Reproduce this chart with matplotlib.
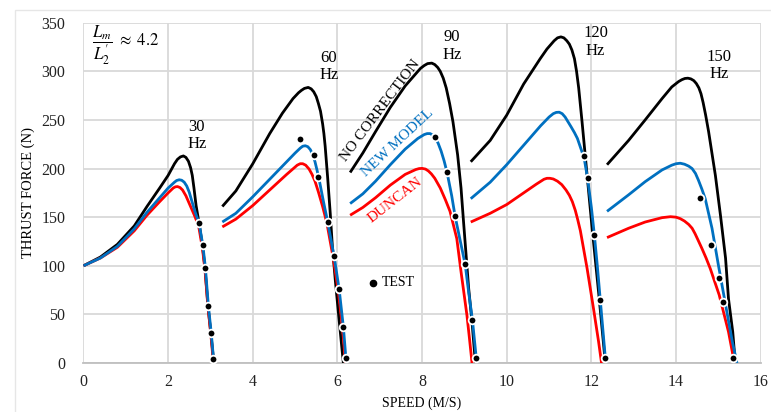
import matplotlib.pyplot as plt
from matplotlib.patches import Rectangle

# thrust (N) vs speed (m/s)
# nc = no correction, nm = new model, dn = Duncan, one set per supply frequency
nc30_v = [0, 0.4, 0.8, 1.2, 1.5, 1.8, 2.0, 2.15, 2.22, 2.29, 2.36, 2.42, 2.48, 2.53, 2.57, 2.61, 2.66, 2.73, 2.81, 2.87, 2.94, 3.01, 3.08]
nc30_f = [100, 109, 122, 141, 161, 180, 193, 205, 209.5, 212, 213, 211.5, 207.5, 201, 193, 180, 162, 144, 121, 98, 59, 30, 0]
nm30_v = [0, 0.4, 0.8, 1.2, 1.5, 1.8, 2.0, 2.15, 2.2, 2.26, 2.32, 2.38, 2.44, 2.5, 2.55, 2.64, 2.73, 2.82, 2.88, 2.95, 3.02, 3.08]
nm30_f = [100, 108, 120, 138, 155, 170, 180, 186, 187.7, 188.5, 188, 186, 182, 175.5, 168, 155, 144, 121, 98, 59, 30, 0]
dn30_v = [0, 0.4, 0.8, 1.2, 1.5, 1.8, 2.0, 2.12, 2.17, 2.22, 2.28, 2.34, 2.42, 2.52, 2.62, 2.72, 2.81, 2.87, 2.94, 3.01, 3.07]
dn30_f = [100, 108, 119, 136, 152, 166, 175, 180, 181.2, 181.5, 180.5, 178, 172, 162, 152, 141, 118, 96, 58, 29, 0]

nc60_v = [3.28, 3.6, 4.0, 4.4, 4.7, 4.95, 5.08, 5.15, 5.22, 5.31, 5.38, 5.44, 5.5, 5.55, 5.6, 5.65, 5.68, 5.71, 5.77, 5.83, 5.88, 5.95, 6.04, 6.14]
nc60_f = [161, 177, 205, 236, 257, 272, 278, 280.5, 282.5, 283.5, 282, 279, 274, 267, 259, 246, 236, 223, 190, 154, 120, 85, 44, 0]
nm60_v = [3.28, 3.6, 4.0, 4.4, 4.8, 5.0, 5.12, 5.18, 5.24, 5.3, 5.36, 5.42, 5.47, 5.52, 5.58, 5.67, 5.77, 5.92, 6.04, 6.14, 6.2, 6.22]
nm60_f = [145, 154, 171, 189, 207, 216, 221, 223, 223.5, 222.5, 219.5, 214, 207, 198, 186, 166, 145, 110, 76, 37, 5, 0]
dn60_v = [3.28, 3.6, 4.0, 4.4, 4.8, 5.05, 5.12, 5.18, 5.25, 5.33, 5.4, 5.47, 5.55, 5.65, 5.75, 5.9, 6.02, 6.12, 6.19]
dn60_f = [140, 148, 162, 178, 194, 203.5, 205, 205, 203.5, 199.5, 194, 187, 176, 161, 144, 108, 74, 36, 0]

nc90_v = [6.3, 6.6, 6.9, 7.25, 7.6, 7.96, 8.05, 8.13, 8.23, 8.3, 8.37, 8.43, 8.5, 8.57, 8.65, 8.73, 8.84, 8.92, 8.98, 9.04, 9.1, 9.18, 9.26]
nc90_f = [196, 216, 238, 263, 285, 303, 306, 308, 308.5, 307, 304, 300, 293, 283, 267, 248, 214, 180, 145, 111, 77, 42, 0]
nm90_v = [6.3, 6.6, 6.9, 7.25, 7.6, 7.9, 8.05, 8.12, 8.19, 8.25, 8.31, 8.38, 8.45, 8.52, 8.59, 8.7, 8.78, 8.9, 9.02, 9.1, 9.19, 9.28, 9.3]
nm90_f = [164, 174, 187, 204, 220, 231, 235, 236, 236, 234.5, 232, 226, 218, 208, 196, 172, 151, 126, 101, 73, 44, 5, 0]
dn90_v = [6.3, 6.6, 6.9, 7.25, 7.6, 7.85, 7.93, 8.0, 8.08, 8.15, 8.22, 8.3, 8.43, 8.55, 8.66, 8.74, 8.82, 8.92, 9.06, 9.12, 9.18]
dn90_f = [152, 160, 170, 183, 194, 199, 200, 200.2, 199.5, 197.5, 194.5, 190, 180, 168, 156, 142, 128, 94, 49, 25, 0]

nc120_v = [9.15, 9.61, 10.0, 10.4, 10.79, 10.95, 11.05, 11.12, 11.2, 11.28, 11.35, 11.42, 11.48, 11.54, 11.6, 11.65, 11.7, 11.78, 11.86, 12.01, 12.17, 12.33]
nc120_f = [207, 229, 255, 287, 313, 323, 328, 331.5, 334.5, 335.5, 334.5, 331.5, 328, 322, 313, 300, 283, 248, 211, 142, 73, 0]
nm120_v = [9.15, 9.61, 10.0, 10.4, 10.8, 11.0, 11.1, 11.17, 11.24, 11.31, 11.38, 11.45, 11.52, 11.6, 11.67, 11.78, 11.84, 11.91, 12.0, 12.07, 12.14, 12.21, 12.33, 12.35]
nm120_f = [169, 186, 204, 224, 244, 253, 256.5, 257.8, 258, 256.5, 253, 248, 243, 237, 231, 217, 208, 190, 160, 132, 100, 65, 5, 0]
dn120_v = [9.15, 9.61, 10.0, 10.4, 10.7, 10.88, 10.95, 11.02, 11.1, 11.2, 11.3, 11.4, 11.48, 11.55, 11.62, 11.68, 11.74, 11.9, 12.05, 12.17, 12.24]
dn120_f = [145, 154, 163, 175, 184, 189, 190, 190, 189.3, 187, 183.5, 178, 172.5, 166, 157, 147, 136, 97, 56, 22, 0]

nc150_v = [12.37, 12.88, 13.27, 13.67, 13.9, 14.06, 14.14, 14.21, 14.28, 14.35, 14.42, 14.48, 14.54, 14.59, 14.64, 14.7, 14.77, 14.93, 15.05, 15.17, 15.24, 15.34, 15.4]
nc150_f = [204, 229, 250, 272, 284, 289.5, 291.5, 292.7, 293, 292.3, 290.5, 287.5, 283, 277, 268, 255, 238, 193, 152, 108, 66, 32, 0]
nm150_v = [12.37, 12.88, 13.27, 13.67, 13.9, 14.0, 14.1, 14.2, 14.3, 14.38, 14.46, 14.53, 14.61, 14.69, 14.85, 15.0, 15.17, 15.33, 15.44]
nm150_f = [156, 173, 186.5, 198.6, 203.5, 205, 205.5, 204.5, 202.5, 200, 195, 188, 179, 169, 138.6, 101, 60, 22, 0]
dn150_v = [12.37, 12.88, 13.27, 13.67, 13.87, 14.0, 14.1, 14.2, 14.3, 14.38, 14.45, 14.52, 14.61, 14.71, 14.81, 15.02, 15.24, 15.38]
dn150_f = [129, 138.6, 145, 149.5, 150.5, 150, 148.5, 146, 142.5, 138.6, 133, 126.5, 118, 108, 97, 70, 32, 0]

# measured points
test_v = [2.73, 2.82, 2.88, 2.95, 3.02, 3.07,
          5.12, 5.45, 5.54, 5.77, 5.92, 6.04, 6.14, 6.2,
          8.31, 8.59, 8.78, 9.02, 9.19, 9.28,
          11.82, 11.91, 12.07, 12.21, 12.33,
          14.57, 14.83, 15.02, 15.11, 15.34]
test_f = [144, 121, 98, 59, 30.5, 4,
          230, 214, 191, 145, 110, 76, 37, 5.5,
          232, 196, 151, 101.5, 44, 5.5,
          213, 190, 132, 65, 5.5,
          170, 121, 87, 63, 5]

freq_labels = ['30\nHz', '60\nHz', '90\nHz', '120\nHz', '150\nHz']
freq_label_pos = [(2.68, 234), (5.8, 305), (8.7, 326), (12.1, 330), (15.02, 306)]

plt.rcParams['font.family'] = ['Liberation Serif', 'DejaVu Serif']

fig = plt.figure(figsize=(7.71, 4.12), dpi=100)
ax = fig.add_axes([0.1083, 0.119, 0.8783, 0.8257])

black = '#000000'
blue = '#0070C0'
red = '#FF0000'
lw = 2.0

for v, f in [(nc30_v, nc30_f), (nc60_v, nc60_f), (nc90_v, nc90_f), (nc120_v, nc120_f), (nc150_v, nc150_f)]:
    ax.plot(v, f, color=black, lw=lw, zorder=3, solid_capstyle='butt', solid_joinstyle='round')
for v, f in [(dn30_v, dn30_f), (dn60_v, dn60_f), (dn90_v, dn90_f), (dn120_v, dn120_f), (dn150_v, dn150_f)]:
    ax.plot(v, f, color=red, lw=lw, zorder=3, solid_capstyle='butt', solid_joinstyle='round')
for v, f in [(nm30_v, nm30_f), (nm60_v, nm60_f), (nm90_v, nm90_f), (nm120_v, nm120_f), (nm150_v, nm150_f)]:
    ax.plot(v, f, color=blue, lw=lw, zorder=4, solid_capstyle='butt', solid_joinstyle='round')

ax.plot(test_v, test_f, ls='none', marker='o', ms=5.5, mfc='black', mec='white', mew=1.3, zorder=5)

ax.set_xlim(0, 16)
ax.set_ylim(0, 350)
ax.set_xticks(range(0, 17, 2))
ax.set_yticks(range(0, 351, 50))
ax.grid(color='#D9D9D9', lw=1.3)
ax.set_axisbelow(True)
for s in ['top', 'right', 'left']:
    ax.spines[s].set_visible(False)
ax.spines['bottom'].set_color('#BFBFBF')
ax.spines['bottom'].set_linewidth(1.3)
ax.tick_params(length=0, labelsize=11.5, colors='#222222')
ax.tick_params(axis='y', pad=13)
ax.tick_params(axis='x', pad=8)

ax.set_xlabel('SPEED (M/S)', fontsize=10)
ax.set_ylabel('THRUST FORCE (N)', fontsize=10.5)
ax.xaxis.set_label_coords(0.5, -0.118)
ax.xaxis.label.set_va('center')
ax.yaxis.set_label_coords(-0.082, 0.5)
ax.yaxis.label.set_va('center')

for txt, (x, y) in zip(freq_labels, freq_label_pos):
    ax.text(x, y, txt, ha='center', va='center', fontsize=12, linespacing=1.15)

ax.text(0.2, 327, r"$\dfrac{L_m}{L^{\prime}_{2}}\ \approx\ 4.2$", ha='left', va='center',
        fontsize=12, math_fontfamily='stix')

ax.text(7.01, 260, 'NO CORRECTION', color=black, fontsize=11, rotation=53,
        ha='center', va='center', rotation_mode='anchor')
ax.text(7.42, 226, 'NEW MODEL', color=blue, fontsize=11, rotation=43,
        ha='center', va='center', rotation_mode='anchor')
ax.text(7.36, 167, 'DUNCAN', color=red, fontsize=11, rotation=38,
        ha='center', va='center', rotation_mode='anchor')

ax.plot([6.85], [82.6], ls='none', marker='o', ms=4.5, color='black')
ax.text(7.05, 82.6, 'TEST', ha='left', va='center', fontsize=10)

# light chart-area border
fig.patches.append(Rectangle((15 / 771, -0.05), 1.1, 1.05 - 10 / 412, transform=fig.transFigure,
                             fill=False, ec='#E6E6E6', lw=1))

fig.savefig('out.png', dpi=100)
